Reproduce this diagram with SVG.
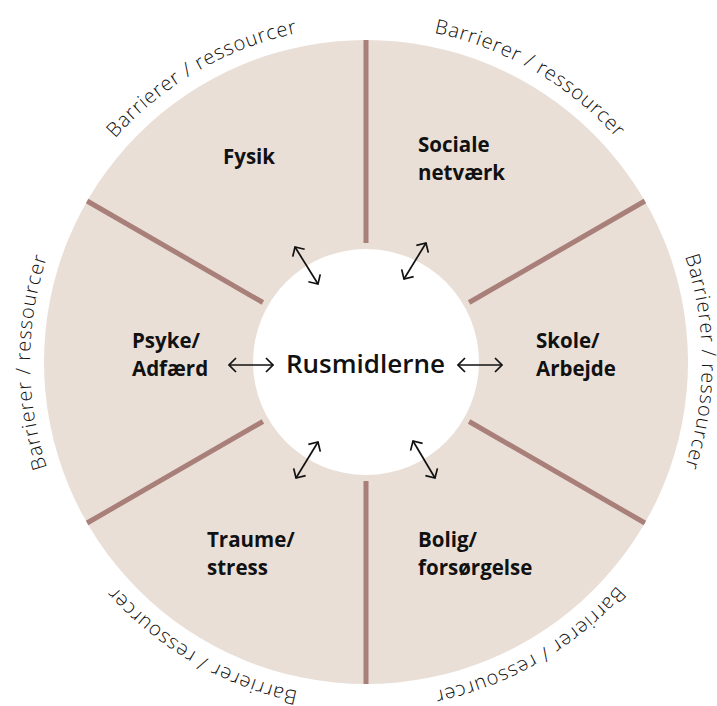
<svg xmlns="http://www.w3.org/2000/svg" width="717" height="706" viewBox="0 0 717 706">
<style>
.seg{fill:#e9dfd7}
.div{stroke:#a97f79;stroke-width:5;fill:none}
.lbl{font-family:"Open Sans","Liberation Sans",sans-serif;font-weight:700;font-size:20.5px;fill:#111}
.arc{font-family:"Open Sans","Liberation Sans",sans-serif;font-weight:300;font-size:20px;fill:#111;letter-spacing:0.9px}
.core{font-family:"Open Sans","Liberation Sans",sans-serif;font-weight:600;font-size:26px;fill:#111}
.arr{stroke:#111;stroke-width:1.7;fill:none;marker-start:url(#ah);marker-end:url(#ah)}
</style>
<defs>
<marker id="ah" viewBox="0 0 16 16" markerWidth="16" markerHeight="16" refX="15" refY="8" orient="auto-start-reverse" markerUnits="userSpaceOnUse">
<path d="M8,1 L15,8 L8,15" fill="none" stroke="#111" stroke-width="1.7"/>
</marker>
<path id="pTL" d="M35.1,420.3 A336,336 0 0 1 582.0,104.6"/>
<path id="pTR" d="M150.0,104.6 A336,336 0 0 1 696.9,420.3"/>
<path id="pR" d="M480.9,46.3 A336,336 0 0 1 480.9,677.7"/>
<path id="pBR" d="M696.9,303.7 A336,336 0 0 1 150.0,619.4"/>
<path id="pBL" d="M582.0,619.4 A336,336 0 0 1 35.1,303.7"/>
<path id="pL" d="M251.1,677.7 A336,336 0 0 1 251.1,46.3"/>
</defs>
<rect width="717" height="706" fill="#fff"/>
<g id="ring">
<circle class="seg" cx="366" cy="362" r="322"/>
<circle cx="366" cy="362" r="113" fill="#fff"/>
<line class="div" x1="366" y1="243" x2="366" y2="40"/>
<line class="div" x1="366" y1="481" x2="366" y2="684"/>
<line class="div" x1="469.1" y1="302.5" x2="644.9" y2="201"/>
<line class="div" x1="469.1" y1="421.5" x2="644.9" y2="523"/>
<line class="div" x1="262.9" y1="302.5" x2="87.1" y2="201"/>
<line class="div" x1="262.9" y1="421.5" x2="87.1" y2="523"/>
</g>
<g id="arcs">
<text class="arc"><textPath href="#pTL" startOffset="50%" text-anchor="middle">Barrierer / ressourcer</textPath></text>
<text class="arc"><textPath href="#pTR" startOffset="50%" text-anchor="middle">Barrierer / ressourcer</textPath></text>
<text class="arc"><textPath href="#pR" startOffset="50%" text-anchor="middle">Barrierer / ressourcer</textPath></text>
<text class="arc"><textPath href="#pBR" startOffset="50%" text-anchor="middle">Barrierer / ressourcer</textPath></text>
<text class="arc"><textPath href="#pBL" startOffset="50%" text-anchor="middle">Barrierer / ressourcer</textPath></text>
<text class="arc"><textPath href="#pL" startOffset="50%" text-anchor="middle">Barrierer / ressourcer</textPath></text>
</g>
<g id="center"><text class="core" x="365.5" y="373" text-anchor="middle">Rusmidlerne</text></g>
<g id="fysik"><text class="lbl" x="223" y="164">Fysik</text></g>
<g id="sociale"><text class="lbl" x="418" y="152">Sociale</text><text class="lbl" x="418" y="180">netværk</text></g>
<g id="psyke"><text class="lbl" x="132" y="348">Psyke/</text><text class="lbl" x="132" y="376">Adfærd</text></g>
<g id="skole"><text class="lbl" x="536" y="348">Skole/</text><text class="lbl" x="536" y="376">Arbejde</text></g>
<g id="traume"><text class="lbl" x="207" y="547">Traume/</text><text class="lbl" x="207" y="575">stress</text></g>
<g id="bolig"><text class="lbl" x="418" y="547">Bolig/</text><text class="lbl" x="418" y="575">forsørgelse</text></g>
<g id="connectors">
<line class="arr" x1="229" y1="365" x2="273" y2="365"/>
<line class="arr" x1="458" y1="365" x2="502" y2="365"/>
<line class="arr" x1="295" y1="247" x2="318" y2="284"/>
<line class="arr" x1="426" y1="243" x2="404" y2="279"/>
<line class="arr" x1="318" y1="442" x2="296" y2="478"/>
<line class="arr" x1="413" y1="441" x2="435" y2="478"/>
</g>
</svg>
